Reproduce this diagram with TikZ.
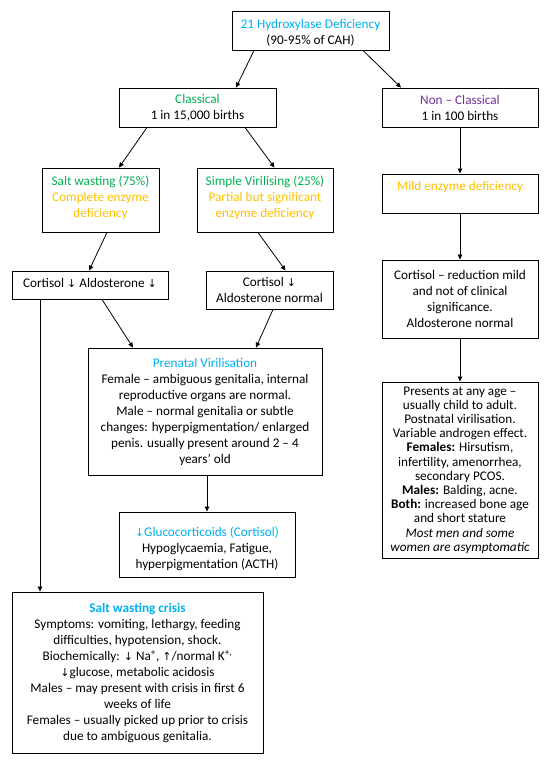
\documentclass[tikz,border=0pt]{standalone}
\usepackage{fontspec}
\setmainfont{Carlito}
\newfontfamily\symfnt{DejaVu Sans}
\usetikzlibrary{arrows.meta}
\definecolor{cyanw}{HTML}{00B0F0}
\definecolor{greenw}{HTML}{00B050}
\definecolor{goldw}{HTML}{FFC000}
\definecolor{purplew}{HTML}{7030A0}
\newcommand{\dn}{\smash{\symfnt\fontsize{11}{11}\selectfont ↓}}
\newcommand{\upa}{\smash{\symfnt\fontsize{11}{11}\selectfont ↑}}
\newcommand{\lift}[1]{\rule[-#1pt]{0pt}{0pt}}
\newcommand{\drop}[1]{\rule{0pt}{#1pt}}
\tikzset{
  box/.style 2 args={draw, line width=0.9pt, inner sep=0pt, align=center,
    minimum width=#1pt, minimum height=#2pt,
    font=\fontsize{13.2}{16}\selectfont},
  conn/.style={line width=0.8pt, -{Triangle[length=5pt,width=4.5pt]}}
}
\begin{document}
\begin{tikzpicture}[x=1pt,y=-1pt]
\useasboundingbox (0,0) rectangle (554,761);
\node[box={157}{39}] (top) at (310.5,30.5) {\drop{13.5}{\color{cyanw}21 Hydroxylase Deficiency}\\(90-95\% of CAH)};
\node[box={157}{39}] (classical) at (197.5,107.5) {{\color{greenw}Classical}\\1 in 15,000 births};
\node[box={156}{39}] (nonclass) at (460,107.5) {{\color{purplew}Non – Classical}\\1 in 100 births};
\node[box={117}{64}] (salt) at (100.5,200) {{\color{greenw}Salt wasting (75\%)}\\\color{goldw}Complete enzyme\\\color{goldw}deficiency\lift{7}};
\node[box={136}{64}] (simple) at (265,200) {{\color{greenw}Simple Virilising (25\%)}\\\color{goldw}Partial but significant\\\color{goldw}enzyme deficiency\lift{7}};
\node[box={156}{39}] (mild) at (460,193.5) {{\color{goldw}Mild enzyme deficiency}\\\mbox{}};
\node[box={156}{28}] (cort1) at (90,285) {Cortisol \dn\ Aldosterone \dn\lift{5}};
\node[box={127}{38}] (cort2) at (269.5,290) {Cortisol \dn\\Aldosterone normal};
\node[box={156}{78}] (cortmild) at (460,299) {Cortisol – reduction mild\\and not of clinical\\significance.\\Aldosterone normal};
\node[box={234}{127}] (prenatal) at (205,411.5) {{\color{cyanw}Prenatal Virilisation}\\Female – ambiguous genitalia, internal\\reproductive organs are normal.\\Male – normal genitalia or subtle\\changes: hyperpigmentation/ enlarged\\penis. usually present around 2 – 4\\years’ old};
\node[box={176}{65}] (gluco) at (207,544.5) {\drop{18.5}{\color{cyanw}\dn Glucocorticoids (Cortisol)}\\Hypoglycaemia, Fatigue,\\hyperpigmentation (ACTH)};
\node[box={156}{176}, font=\fontsize{13.2}{14.2}\selectfont] (right) at (460,470) {Presents at any age –\\usually child to adult.\\Postnatal virilisation.\\Variable androgen effect.\\\textbf{Females:} Hirsutism,\\infertility, amenorrhea,\\secondary PCOS.\\\textbf{Males:} Balding, acne.\\\textbf{Both:} increased bone age\\and short stature\\\textit{Most men and some}\\\textit{women are asymptomatic}};
\node[box={251}{161}] (crisis) at (137.5,672.5) {{\color{cyanw}\textbf{Salt wasting crisis}}\\Symptoms: vomiting, lethargy, feeding\\difficulties, hypotension, shock.\\Biochemically: \dn\ Na\textsuperscript{+}, \upa/normal K\textsuperscript{+,}\\\dn glucose, metabolic acidosis\\Males – may present with crisis in first 6\\weeks of life\\Females – usually picked up prior to crisis\\due to ambiguous genitalia.};
\draw[conn] ([xshift=-56.5]top.south) -- ([xshift=38.5]classical.north);
\draw[conn] ([xshift=52.5]top.south) -- ([xshift=-59]nonclass.north);
\draw[conn] ([xshift=-50.5]classical.south) -- ([xshift=18.5]salt.north);
\draw[conn] ([xshift=47.5]classical.south) -- ([xshift=9.5]simple.north);
\draw[conn] (nonclass.south) -- (mild.north);
\draw[conn] ([xshift=6.5]salt.south) -- ([xshift=-1]cort1.north);
\draw[conn] ([xshift=-7]simple.south) -- ([xshift=16]cort2.north);
\draw[conn] (mild.south) -- (cortmild.north);
\draw[conn] (cortmild.south) -- (right.north);
\draw[conn] ([xshift=12]cort1.south) -- ([xshift=-72]prenatal.north);
\draw[conn] ([xshift=3.5]cort2.south) -- ([xshift=51]prenatal.north);
\draw[conn] ([xshift=-50]cort1.south) -- ([xshift=-97.5]crisis.north);
\draw[conn] ([xshift=2]prenatal.south) -- (gluco.north);
\end{tikzpicture}
\end{document}
